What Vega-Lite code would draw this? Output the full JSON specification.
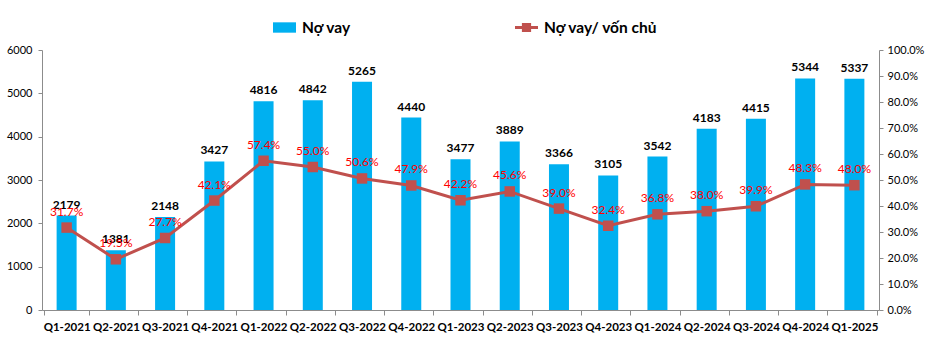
{
  "$schema": "https://vega.github.io/schema/vega-lite/v6.json",
  "width": 837,
  "height": 260,
  "autosize": {"type": "none"},
  "padding": {"left": 42, "top": 50, "right": 58, "bottom": 36},
  "background": "white",
  "config": {
    "view": {"stroke": null},
    "font": "Lato",
    "axis": {"grid": false, "domainColor": "#8c8c8c", "tickColor": "#8c8c8c", "labelColor": "#000000", "labelFont": "Lato", "titleFont": "Lato"}
  },
  "data": {
    "values": [
      {"q": "Q1-2021", "debt": 2179, "ratio": 0.317},
      {"q": "Q2-2021", "debt": 1381, "ratio": 0.195},
      {"q": "Q3-2021", "debt": 2148, "ratio": 0.277},
      {"q": "Q4-2021", "debt": 3427, "ratio": 0.421},
      {"q": "Q1-2022", "debt": 4816, "ratio": 0.574},
      {"q": "Q2-2022", "debt": 4842, "ratio": 0.550},
      {"q": "Q3-2022", "debt": 5265, "ratio": 0.506},
      {"q": "Q4-2022", "debt": 4440, "ratio": 0.479},
      {"q": "Q1-2023", "debt": 3477, "ratio": 0.422},
      {"q": "Q2-2023", "debt": 3889, "ratio": 0.456},
      {"q": "Q3-2023", "debt": 3366, "ratio": 0.390},
      {"q": "Q4-2023", "debt": 3105, "ratio": 0.324},
      {"q": "Q1-2024", "debt": 3542, "ratio": 0.368},
      {"q": "Q2-2024", "debt": 4183, "ratio": 0.380},
      {"q": "Q3-2024", "debt": 4415, "ratio": 0.399},
      {"q": "Q4-2024", "debt": 5344, "ratio": 0.483},
      {"q": "Q1-2025", "debt": 5337, "ratio": 0.480}
    ]
  },
  "encoding": {
    "x": {
      "field": "q", "type": "nominal", "sort": null, "title": null,
      "axis": {"labelAngle": 0, "labelFontWeight": "bold", "labelFontSize": 11.5, "tickBand": "extent", "tickSize": 5, "labelPadding": 6, "domainColor": "#8c8c8c"}
    }
  },
  "layer": [
    {
      "encoding": {
        "y": {"field": "debt", "type": "quantitative", "scale": {"domain": [0, 6000]}, "title": null,
          "axis": {"values": [0, 1000, 2000, 3000, 4000, 5000, 6000], "labelFontSize": 11, "tickSize": 4, "labelPadding": 6, "format": "d", "labelOverlap": false}}
      },
      "layer": [
        {
          "mark": {"type": "bar", "size": 20},
          "encoding": {
            "fill": {"datum": "Nợ vay", "type": "nominal",
              "scale": {"range": ["#00B0F0"]},
              "legend": {"title": null, "orient": "none", "legendX": 231, "legendY": -34, "symbolType": "M-1,-0.45H1V0.45H-1Z", "symbolSize": 529, "symbolStrokeWidth": 0, "labelFontSize": 15.5, "labelFontWeight": "bold", "labelColor": "#000000", "labelFont": "Lato", "labelOffset": 6}}
          }
        },
        {
          "mark": {"type": "text", "baseline": "bottom", "dy": -4, "fontSize": 12, "fontWeight": "bold", "color": "#000000"},
          "encoding": {
            "text": {"field": "debt", "type": "quantitative", "format": "d"}
          }
        }
      ]
    },
    {
      "encoding": {
        "y": {"field": "ratio", "type": "quantitative", "scale": {"domain": [0, 1]}, "title": null,
          "axis": {"orient": "right", "format": ".1%", "values": [0, 0.1, 0.2, 0.3, 0.4, 0.5, 0.6, 0.7, 0.8, 0.9, 1.0], "labelFontSize": 11, "tickSize": 4, "labelPadding": 4, "labelOverlap": false, "labelFlush": false}}
      },
      "layer": [
        {
          "mark": {"type": "line", "strokeWidth": 3},
          "encoding": {
            "stroke": {"datum": "Nợ vay/ vốn chủ", "type": "nominal",
              "scale": {"range": ["#C0504D"]},
              "legend": {"title": null, "orient": "none", "legendX": 473, "legendY": -34, "symbolType": "M-1,-0.13H1V0.13H-1Z M-0.4,-0.4H0.4V0.4H-0.4Z", "symbolSize": 529, "symbolFillColor": "#C0504D", "symbolStrokeWidth": 0, "labelFontSize": 15.5, "labelFontWeight": "bold", "labelColor": "#000000", "labelFont": "Lato", "labelOffset": 6}}
          }
        },
        {
          "mark": {"type": "point", "shape": "square", "filled": true, "size": 110, "color": "#C0504D", "opacity": 1}
        },
        {
          "mark": {"type": "text", "baseline": "bottom", "dy": -9, "fontSize": 12, "color": "#FF0000"},
          "encoding": {
            "text": {"field": "ratio", "type": "quantitative", "format": ".1%"}
          }
        }
      ]
    }
  ],
  "resolve": {"scale": {"y": "independent"}}
}
